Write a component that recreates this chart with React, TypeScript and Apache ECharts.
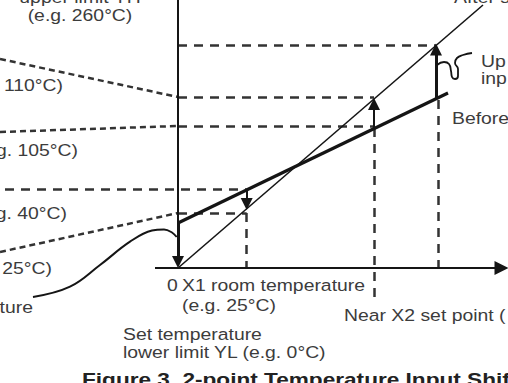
import React, { useEffect, useRef } from "react";
import * as echarts from "echarts";

// Coordinate system: input (x) to the right of the vertical axis, output (y) above the horizontal axis.
const afterShiftLine = [[0, 0], [305, 263]];
const beforeShiftLine = [[0, 45], [270, 175]];
const outputAxis = [[0, 268], [0, 45]];
const inputAxis = [[-23, 0], [323.5, 0]];

const thickShiftArrows = [
  [[0, 45], [0, 6]],
  [[258, 169], [258, 218.5]],
];
const thinShiftArrows = [
  [[68.7, 78], [68.7, 64]],
  [[196, 140], [196, 164]],
];

const longDashes = [
  [[0, 223], [258, 223]],
  [[0, 171], [196, 171]],
  [[0, 142], [196, 142]],
  [[-173, 79], [68.7, 79]],
  [[0, 55], [68.7, 55]],
];
const shortDashes = [
  [[-178, 209], [0, 171]],
  [[-178, 136], [0, 142]],
  [[-178, 16], [0, 55]],
];
const verticalDashes = [
  [[68.7, 55], [68.7, 0]],
  [[196, 140], [196, -29]],
  [[260, 168], [260, 0]],
];

const measuredCurve = [
  [-145, -29], [-108, -18.7], [-78, 3], [-48, 26.3], [-26, 37.5], [-14, 38.5], [-6, 35.5], [-1.3, 31],
];
const loopCurve = [
  [259, 203], [266, 206], [271, 204], [273, 197], [274, 191], [277, 189], [280, 192], [280, 199],
  [277, 205], [279, 210], [285, 213], [294, 215],
];

const labelTexts = [
  "upper limit YH", "(e.g. 260°C)", "110°C)", "g. 105°C)", "g. 40°C)", "25°C)", "ture",
  "0", "X1 room temperature", "(e.g. 25°C)", "Set temperature", "lower limit YL (e.g. 0°C)",
  "Near X2 set point (", "Before", "Up", "inp", "After s",
];
const labelX = [80, 80, 63, 78, 67, 52, 33, 167, 182, 182, 123, 123, 344, 452, 481, 481, 454];
const labelY = [-3, 15, 85, 150, 213, 268, 307, 285, 285, 305, 334, 352, 315, 118, 61, 78, -3];
const labelAlign = ["center", "center", "right", "right", "right", "right", "right", "left", "left", "left", "left", "left", "left", "left", "left", "left", "left"];
const captionText = "Figure 3. 2-point Temperature Input Shift";

const FONT = "'Liberation Sans', Arial, sans-serif";
const INK = "#151515";
const DASH = "#333333";
const TEXT = "#3c3c3c";
const SX = 1.14;

function segs(list: number[][][]) {
  return list.map((c) => ({ coords: c }));
}

export default function App() {
  const ref = useRef<HTMLDivElement>(null);
  useEffect(() => {
    if (!ref.current) return;
    const chart = echarts.init(ref.current, undefined, { renderer: "svg" });
    const linesBase = { type: "lines", coordinateSystem: "cartesian2d", polyline: false, silent: true, z: 3 };
    const option: any = {
      animation: false,
      grid: { left: 0, right: 0, top: 0, bottom: 0 },
      xAxis: { type: "value", min: -178, max: 330, show: false },
      yAxis: { type: "value", min: -115, max: 268, show: false },
      series: [
        { ...linesBase, symbol: ["none", "none"], lineStyle: { color: DASH, width: 2.5, type: [9, 7], opacity: 1 }, data: segs(longDashes) },
        { ...linesBase, symbol: ["none", "none"], lineStyle: { color: DASH, width: 2.5, type: [6, 4], opacity: 1 }, data: segs(shortDashes) },
        { ...linesBase, symbol: ["none", "none"], lineStyle: { color: DASH, width: 2.5, type: [9, 7], opacity: 1 }, data: segs(verticalDashes) },
        { ...linesBase, symbol: ["none", "none"], lineStyle: { color: INK, width: 1.6, opacity: 1 }, data: segs([afterShiftLine]) },
        { ...linesBase, symbol: ["none", "none"], lineStyle: { color: INK, width: 3.2, opacity: 1 }, data: segs([beforeShiftLine]) },
        { ...linesBase, symbol: ["none", "none"], lineStyle: { color: INK, width: 2, opacity: 1 }, data: segs([outputAxis]) },
        { ...linesBase, symbol: ["none", "triangle"], symbolSize: [17, 14], lineStyle: { color: INK, width: 2, opacity: 1 }, itemStyle: { color: INK }, data: segs([inputAxis]) },
        { ...linesBase, symbol: ["none", "triangle"], symbolSize: [10, 12], lineStyle: { color: INK, width: 3, opacity: 1 }, itemStyle: { color: INK }, data: segs(thickShiftArrows) },
        { ...linesBase, symbol: ["none", "triangle"], symbolSize: [8, 12], lineStyle: { color: INK, width: 2, opacity: 1 }, itemStyle: { color: INK }, data: segs(thinShiftArrows) },
        { type: "line", data: measuredCurve, smooth: 0.4, showSymbol: false, silent: true, lineStyle: { color: INK, width: 2 } },
        { type: "line", data: loopCurve, smooth: 0.5, showSymbol: false, silent: true, lineStyle: { color: INK, width: 1.8 } },
      ],
      graphic: [
        ...labelTexts.map((t, i) => ({
          type: "text",
          x: labelX[i],
          y: labelY[i],
          scaleX: SX,
          silent: true,
          z: 10,
          style: { text: t, fill: TEXT, fontSize: 17, fontFamily: FONT, textAlign: labelAlign[i], textVerticalAlign: "middle" },
        })),
        {
          type: "text",
          x: 82,
          y: 379,
          scaleX: 1.19,
          silent: true,
          z: 10,
          style: { text: captionText, fill: "#222", fontSize: 19, fontWeight: "bold", fontFamily: FONT, textAlign: "left", textVerticalAlign: "middle" },
        },
      ],
    };
    chart.setOption(option);
    return () => chart.dispose();
  }, []);
  return (
    <div style={{ position: "absolute", left: 0, top: 0, width: 508, height: 383, background: "#fff" }}>
      <div ref={ref} style={{ width: 508, height: 383 }} />
    </div>
  );
}
